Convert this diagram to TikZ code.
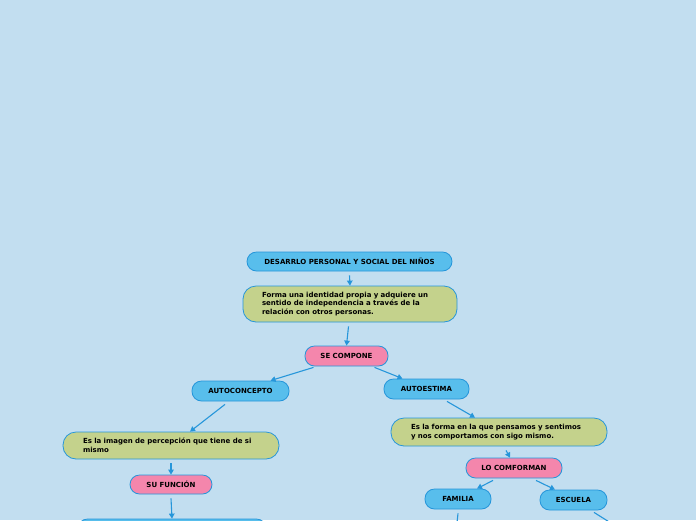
\documentclass[tikz,border=0pt]{standalone}
\usepackage{fontspec}
\setmainfont{DejaVu Sans}
\usepackage{xcolor}
\usetikzlibrary{arrows.meta, positioning}

\definecolor{fondo}{RGB}{194,222,240}
\definecolor{azulnodo}{RGB}{88,190,236}
\definecolor{azulborde}{RGB}{38,150,218}
\definecolor{verdenodo}{RGB}{196,210,140}
\definecolor{rosanodo}{RGB}{244,134,172}

\begin{document}
\begin{tikzpicture}[
			x=1pt, y=-1pt,
			font=\fontsize{7}{8.6}\selectfont\bfseries,
			topic/.style={rectangle, rounded corners=9.5pt, minimum height=19pt, inner sep=0pt, align=center, draw=azulborde, line width=0.8pt, fill=azulnodo},
			linker/.style={rectangle, rounded corners=9.5pt, minimum height=19pt, inner sep=0pt, align=center, draw=azulborde, line width=0.8pt, fill=rosanodo},
			note/.style={rectangle, rounded corners=13pt, inner sep=0pt, align=left, draw=azulborde, line width=0.8pt, fill=verdenodo},
			arrow/.style={line width=1.1pt, draw=azulborde, -{Triangle[length=5pt,width=5.5pt]}}
			]
			
			% Fondo
			\fill[fondo] (0,0) rectangle (696,520);
			\useasboundingbox (0,0) rectangle (696,520);
			\clip (0,0) rectangle (696,520);
			
			% Nodos Iniciales
			\node (titulo) [topic, minimum width=205pt] at (349.5,261.5) {DESARRLO PERSONAL Y SOCIAL DEL NIÑOS};
			\node (identidad) [note, minimum width=214pt, minimum height=36pt, text width=176pt] at (350,304) {Forma una identidad propia y adquiere un\\sentido de independencia a través de la\\relación con otros personas.};
			\node (compone) [linker, minimum width=83pt, minimum height=20pt] at (346.5,356) {SE COMPONE};
			
			% Rama izquierda
			\node (autoconcepto) [topic, minimum width=97pt, minimum height=20pt] at (240.5,391) {AUTOCONCEPTO};
			\node (imagen) [note, minimum width=216pt, minimum height=27pt, text width=176pt] at (171,445.5) {Es la imagen de percepción que tiene de si\\mismo};
			\node (funcion) [linker, minimum width=82pt] at (171,484.5) {SU FUNCIÓN};
			\node (funcionDesc) [topic, minimum width=188pt, minimum height=30pt] at (172,534) {};
			
			% Rama derecha
			\node (autoestima) [topic, minimum width=85pt, minimum height=20pt] at (426.5,389) {AUTOESTIMA};
			\node (forma) [note, minimum width=216pt, minimum height=28pt, text width=176pt] at (499,432) {Es la forma en la que pensamos y sentimos\\y nos comportamos con sigo mismo.};
			\node (comforman) [linker, minimum width=96pt, minimum height=20pt] at (514,468) {LO COMFORMAN};
			\node (familia) [topic, minimum width=66pt, minimum height=20pt] at (458,499) {FAMILIA};
			\node (escuela) [topic, minimum width=67pt, minimum height=20pt] at (573.5,500) {ESCUELA};
			\coordinate (familiaSub) at (456,532);
			\coordinate (escuelaSub) at (622,530);
			
			% Conexiones
			\draw [arrow] ([yshift=-4pt]titulo.south) -- (identidad.north);
			\draw [arrow] ([xshift=-1.5pt,yshift=-4pt]identidad.south) -- (compone.north);
			\draw [arrow] ([xshift=-33pt,yshift=-1pt]compone.south) -- ([xshift=30pt]autoconcepto.north);
			\draw [arrow] ([xshift=28pt,yshift=-1pt]compone.south) -- ([xshift=-24pt]autoestima.north);
			
			\draw [arrow] ([xshift=-15.5pt,yshift=-3pt]autoconcepto.south) -- ([xshift=19pt]imagen.north);
			\draw [arrow] ([yshift=-4pt]imagen.south) -- (funcion.north);
			\draw [arrow] ([yshift=-4pt]funcion.south) -- (funcionDesc.north);
			
			\draw [arrow] ([xshift=20.5pt,yshift=-2pt]autoestima.south) -- ([xshift=-24pt]forma.north);
			\draw [arrow] ([xshift=7pt,yshift=-4pt]forma.south) -- ([xshift=-4pt]comforman.north);
			\draw [arrow] ([xshift=-21pt,yshift=-2pt]comforman.south) -- ([xshift=19pt]familia.north);
			\draw [arrow] ([xshift=22pt,yshift=-2pt]comforman.south) -- ([xshift=-18.5pt]escuela.north);
			\draw [arrow] ([yshift=-4pt]familia.south) -- (familiaSub);
			\draw [arrow] ([xshift=20.5pt,yshift=-2pt]escuela.south) -- (escuelaSub);
			
		\end{tikzpicture}
\end{document}
